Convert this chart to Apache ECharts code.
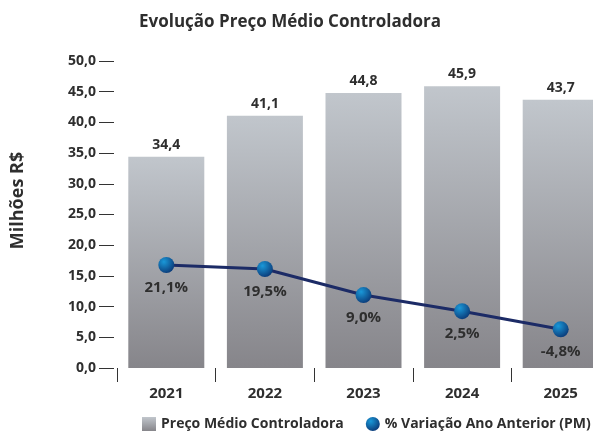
<!DOCTYPE html>
<html>
<head>
    <meta charset="utf-8">
    <script src="https://cdn.jsdelivr.net/npm/echarts@6/dist/echarts.min.js"></script>
    <style type="text/css">
        html, body { width: 100%; height: 100%; margin: 0; background: #fff; }
        #chart { width: 593px; height: 440px; }
    </style>
</head>
<body>
<div id="chart"></div>
<script type="text/javascript">
    // dados do gráfico
    var anos = ['2021', '2022', '2023', '2024', '2025'];
    var precoMedio = [34.4, 41.1, 44.8, 45.9, 43.7];
    var variacao = [21.1, 19.5, 9.0, 2.5, -4.8];
    var yTicks = [0, 5, 10, 15, 20, 25, 30, 35, 40, 45, 50];

    var fonte = '"Open Sans", sans-serif';
    var corTexto = '#2e2e2e';

    function virgula(v, casas) {
        return Number(v).toFixed(casas).replace('.', ',');
    }

    var barColor = new echarts.graphic.LinearGradient(0, 0, 0, 1, [
        { offset: 0, color: '#c1c6cc' },
        { offset: 1, color: '#86858a' }
    ]);
    var ballColor = new echarts.graphic.RadialGradient(0.35, 0.3, 0.75, [
        { offset: 0, color: '#1a98d8' },
        { offset: 1, color: '#0b3a78' }
    ]);

    var myChart = echarts.init(document.getElementById('chart'));
    myChart.setOption({
        animation: false,
        textStyle: { fontFamily: fonte },
        title: {
            text: 'Evolução Preço Médio Controladora',
            left: 134,
            top: 9,
            textStyle: { fontFamily: fonte, fontWeight: 'bold', fontSize: 17, color: corTexto }
        },
        legend: {
            left: 137,
            bottom: 4,
            width: 480,
            itemWidth: 14,
            itemHeight: 14,
            itemGap: 22,
            textStyle: { fontFamily: fonte, fontWeight: 'bold', fontSize: 14, color: corTexto },
            data: [
                { name: 'Preço Médio Controladora', icon: 'rect' },
                { name: '% Variação Ano Anterior (PM)', icon: 'circle' }
            ]
        },
        grid: { left: 117, right: -17, top: 61, bottom: 72, outerBoundsMode: 'none' },
        xAxis: {
            type: 'category',
            data: anos,
            offset: 14,
            axisLine: { show: false },
            axisTick: { show: true, length: 14, lineStyle: { color: '#333', width: 1 } },
            axisLabel: { margin: 4, fontFamily: fonte, fontWeight: 'bold', fontSize: 15, color: corTexto }
        },
        yAxis: [{
            type: 'value',
            min: yTicks[0],
            max: yTicks[yTicks.length - 1],
            interval: 5,
            offset: 3,
            name: 'Milhões R$',
            nameLocation: 'middle',
            nameGap: 87,
            nameTextStyle: {
                fontFamily: fonte, fontWeight: 'bold', fontSize: 18, color: corTexto,
                padding: [0, 0, 0, 28]
            },
            axisLine: { show: false },
            axisTick: { show: true, length: 15, lineStyle: { color: '#333', width: 1 } },
            splitLine: { show: false },
            axisLabel: {
                margin: 18,
                fontFamily: fonte, fontWeight: 'bold', fontSize: 14, color: corTexto,
                formatter: function (v) { return virgula(v, 1); }
            }
        }, {
            type: 'value',
            min: -20.4,
            max: 103.3,
            show: false,
            splitLine: { show: false }
        }],
        series: [{
            name: 'Preço Médio Controladora',
            type: 'bar',
            data: precoMedio,
            barWidth: 76,
            itemStyle: { color: barColor },
            label: {
                show: true,
                position: 'top',
                distance: 5,
                fontFamily: fonte, fontWeight: 'bold', fontSize: 14, color: corTexto,
                formatter: function (p) { return virgula(p.value, 1); }
            }
        }, {
            name: '% Variação Ano Anterior (PM)',
            type: 'line',
            yAxisIndex: 1,
            data: variacao,
            symbol: 'circle',
            symbolSize: 16,
            z: 5,
            lineStyle: { color: '#1c2b66', width: 3 },
            itemStyle: { color: ballColor },
            label: {
                show: true,
                position: 'bottom',
                distance: 7,
                fontFamily: fonte, fontWeight: 'bold', fontSize: 15, color: corTexto,
                formatter: function (p) { return virgula(p.value, 1) + '%'; }
            }
        }]
    });
</script>
</body>
</html>
